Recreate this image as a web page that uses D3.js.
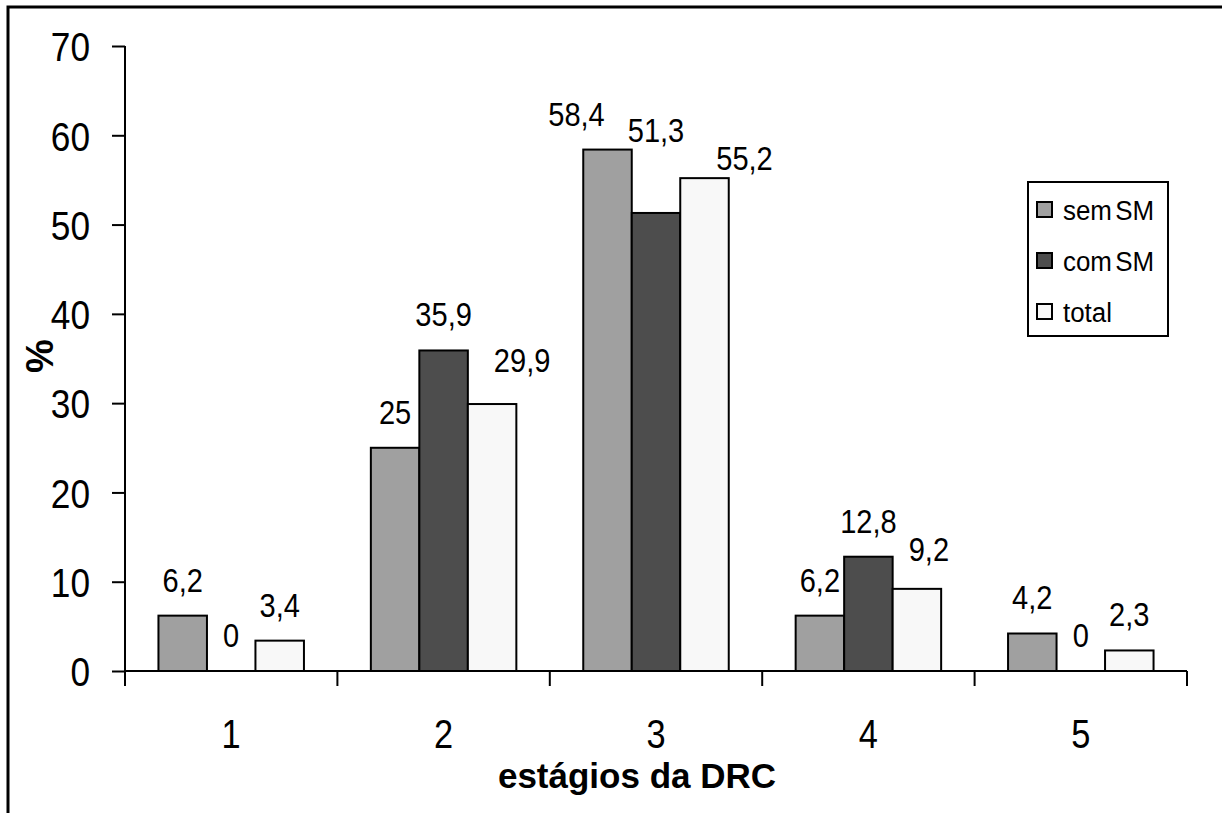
<!DOCTYPE html>
<html>
<head>
<meta charset="utf-8">
<script src="https://cdn.jsdelivr.net/npm/d3@7"></script>
<style>
  body { margin: 0; background: #fff; }
  svg text { font-family: "Liberation Sans", Arial, sans-serif; fill: #000; }
</style>
</head>
<body>
<svg id="chart" width="1222" height="813"></svg>
<script>
const stages = ['1', '2', '3', '4', '5'];
const seriesNames = ['sem SM', 'com SM', 'total'];
const semSM = [6.2, 25, 58.4, 6.2, 4.2];
const comSM = [0, 35.9, 51.3, 12.8, 0];
const total = [3.4, 29.9, 55.2, 9.2, 2.3];
const yTicks = [0, 10, 20, 30, 40, 50, 60, 70];

const colors = ['#a0a0a0', '#4d4d4d', '#f8f8f8'];
const svg = d3.select('#chart');
const plotLeft = 125, plotRight = 1187, plotTop = 46, plotBottom = 671;

// a few data labels were dragged by hand in the original: 'stage|series' -> [dx, dy]
const labelNudge = {
    '2|total': [30, -8],
    '3|sem SM': [-31, 0],
    '3|com SM': [0, -47],
    '3|total': [40, 16],
    '4|total': [12, -4]
};

// squeeze text horizontally around its anchor (the original looks narrowed)
function squeeze(sel, k) {
    sel.each(function () {
        const t = d3.select(this);
        const x = +t.attr('x') || 0;
        t.attr('transform', 'translate(' + x + ',0) scale(' + k + ',1) translate(' + (-x) + ',0)');
    });
}
const fmt = d => String(d).replace('.', ',');

// outer frame (only top and left edges fall inside the picture)
svg.append('rect')
    .attr('x', 8).attr('y', 7).attr('width', 1300).attr('height', 900)
    .attr('fill', 'none').attr('stroke', '#000').attr('stroke-width', 3);

const x0 = d3.scaleBand().domain(stages).range([plotLeft, plotRight]).paddingInner(0.315).paddingOuter(0.1575);
const x1 = d3.scaleBand().domain(seriesNames).range([0, x0.bandwidth()]);
const y = d3.scaleLinear().domain([0, 70]).range([plotBottom, plotTop]);

const rows = stages.map((s, i) => ({ stage: s, values: [semSM[i], comSM[i], total[i]] }));

const g = svg.append('g');
const groups = g.selectAll('.grp').data(rows).join('g')
    .attr('transform', d => 'translate(' + x0(d.stage) + ',0)');

groups.selectAll('rect').data(d => d.values.map((v, j) => ({ v: v, name: seriesNames[j], j: j })).filter(d => d.v > 0))
    .join('rect')
    .attr('x', d => x1(d.name))
    .attr('y', d => y(d.v))
    .attr('width', x1.bandwidth())
    .attr('height', d => y(0) - y(d.v))
    .attr('fill', d => colors[d.j])
    .attr('stroke', '#000').attr('stroke-width', 2);

groups.selectAll('text.lab')
    .data(d => d.values.map((v, j) => ({ v: v, name: seriesNames[j], nudge: labelNudge[d.stage + '|' + seriesNames[j]] || [0, 0] })))
    .join('text').attr('class', 'lab')
    .attr('x', d => x1(d.name) + x1.bandwidth() / 2 + d.nudge[0])
    .attr('y', d => y(d.v) - 24 + d.nudge[1])
    .attr('text-anchor', 'middle')
    .style('font-size', '33px')
    .text(d => fmt(d.v))
    .call(squeeze, 0.88);

// y axis
const yAxisG = svg.append('g').attr('transform', 'translate(' + plotLeft + ',0)')
    .call(d3.axisLeft(y).tickValues(yTicks).tickSize(13).tickPadding(22).tickFormat(fmt));
yAxisG.select('.domain').attr('stroke', '#000').attr('stroke-width', 2)
    .attr('d', 'M0,' + plotTop + 'V' + plotBottom);
yAxisG.selectAll('.tick line').attr('stroke', '#000').attr('stroke-width', 2);
yAxisG.selectAll('.tick text').style('font-size', '41px').attr('dy', '0.36em')
    .style('font-family', '"Liberation Sans", Arial, sans-serif')
    .call(squeeze, 0.86);

// x axis with ticks at category boundaries
const bounds = stages.map(s => x0(s) - x0.step() * 0.1575).concat([plotRight]);
const xLine = svg.append('g');
xLine.append('line').attr('x1', plotLeft).attr('x2', plotRight).attr('y1', plotBottom).attr('y2', plotBottom)
    .attr('stroke', '#000').attr('stroke-width', 2);
xLine.selectAll('line.tk').data(bounds).join('line').attr('class', 'tk')
    .attr('x1', d => d).attr('x2', d => d).attr('y1', plotBottom).attr('y2', plotBottom + 15)
    .attr('stroke', '#000').attr('stroke-width', 2);
xLine.selectAll('text').data(stages).join('text')
    .attr('x', d => x0(d) + x0.bandwidth() / 2)
    .attr('y', 748)
    .attr('text-anchor', 'middle')
    .style('font-size', '40px')
    .text(d => d)
    .call(squeeze, 0.86);

// axis titles
svg.append('text')
    .attr('x', 637).attr('y', 788)
    .attr('text-anchor', 'middle')
    .style('font-size', '35px').style('font-weight', 'bold')
    .text('estágios da DRC');
svg.append('text')
    .attr('transform', 'translate(53,356) rotate(-90)')
    .attr('text-anchor', 'middle')
    .style('font-size', '38px').style('font-weight', 'bold')
    .text('%');

// legend
const legend = svg.append('g');
legend.append('rect')
    .attr('x', 1028).attr('y', 182).attr('width', 140).attr('height', 154)
    .attr('fill', '#fff').attr('stroke', '#000').attr('stroke-width', 2);
const items = legend.selectAll('g.item').data(seriesNames).join('g')
    .attr('transform', (d, i) => 'translate(0,' + (210 + i * 51) + ')');
items.append('rect')
    .attr('x', 1037).attr('y', -8).attr('width', 15).attr('height', 15)
    .attr('fill', (d, i) => colors[i]).attr('stroke', '#000').attr('stroke-width', 2);
items.append('text')
    .attr('x', 1063).attr('y', 10)
    .style('font-size', '27px')
    .style('word-spacing', '-4px')
    .text(d => d)
    .call(squeeze, 0.96);
</script>
</body>
</html>
